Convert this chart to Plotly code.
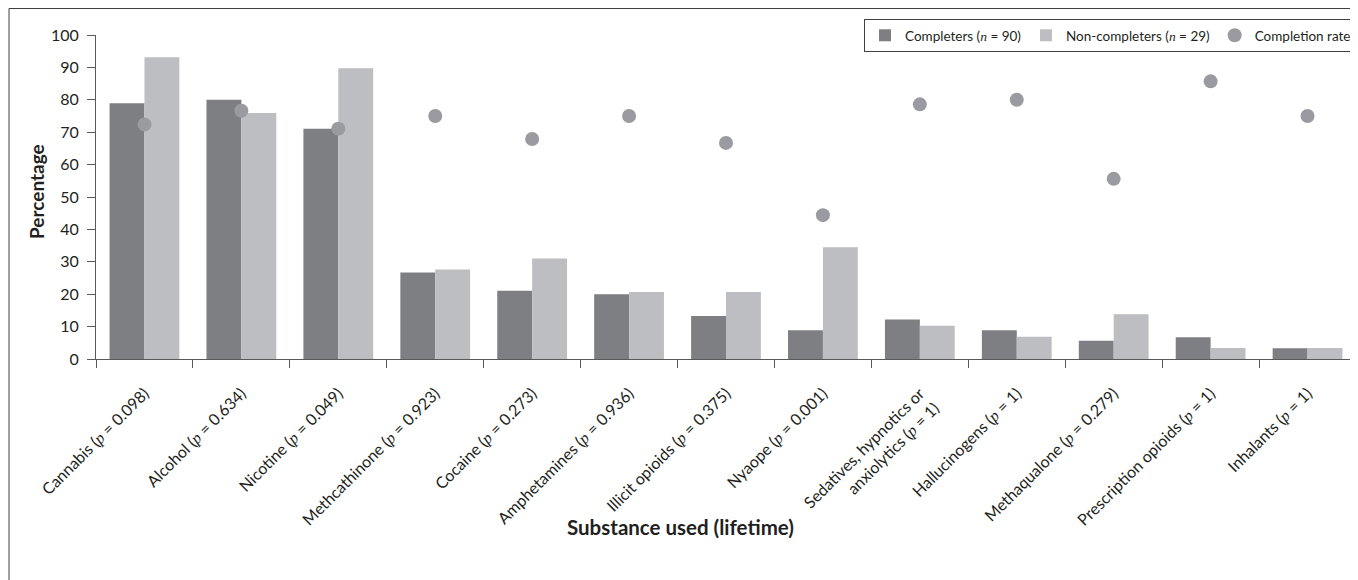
import plotly.graph_objects as go

P = "<span style='font-family:Liberation Serif'><i>p</i></span>"
N = "<span style='font-family:Liberation Serif'><i>n</i></span>"

categories = [
    f"Cannabis ({P} = 0.098)",
    f"Alcohol ({P} = 0.634)",
    f"Nicotine ({P} = 0.049)",
    f"Methcathinone ({P} = 0.923)",
    f"Cocaine ({P} = 0.273)",
    f"Amphetamines ({P} = 0.936)",
    f"Illicit opioids ({P} = 0.375)",
    f"Nyaope ({P} = 0.001)",
    f"Sedatives, hypnotics or<br>anxiolytics ({P} = 1)",
    f"Hallucinogens ({P} = 1)",
    f"Methaqualone ({P} = 0.279)",
    f"Prescription opioids ({P} = 1)",
    f"Inhalants ({P} = 1)",
]
completers = [78.9, 80.0, 71.1, 26.7, 21.1, 20.0, 13.3, 8.9, 12.2, 8.9, 5.6, 6.7, 3.3]
non_completers = [93.1, 75.9, 89.7, 27.6, 31.0, 20.7, 20.7, 34.5, 10.3, 6.9, 13.8, 3.4, 3.4]
completion_rate = [72.4, 76.6, 71.1, 75.0, 67.9, 75.0, 66.7, 44.4, 78.6, 80.0, 55.6, 85.7, 75.0]
y_ticks = [0, 10, 20, 30, 40, 50, 60, 70, 80, 90, 100]

FONT = "Lato, 'Open Sans', sans-serif"
TXT = "#231f20"
AX = "#595959"
W, H = 1350, 572
ML, MR, MT, MB = 88, 2, 27, 221
PW = W - ML - MR
PH = H - MT - MB

def px_x(x):
    return (x - ML) / PW

def px_y(y):
    return (H - MB - y) / PH

fig = go.Figure()
fig.add_trace(go.Bar(
    x=categories, y=completers, name=f"Completers ({N} = 90)",
    marker=dict(color="#7e7f83", line=dict(width=0)),
))
fig.add_trace(go.Bar(
    x=categories, y=non_completers, name=f"Non-completers ({N} = 29)",
    marker=dict(color="#bdbec2", line=dict(width=0)),
))
fig.add_trace(go.Scatter(
    x=categories, y=completion_rate, mode="markers", name="Completion rate",
    marker=dict(color="#9a9ba0", size=14, line=dict(width=0)),
))

fig.update_layout(
    width=W, height=H,
    margin=dict(l=ML, r=MR, t=MT, b=MB, autoexpand=False),
    paper_bgcolor="white", plot_bgcolor="white",
    font=dict(family=FONT, color=TXT),
    barmode="group", bargap=0.28, bargroupgap=0,
    showlegend=True,
    legend=dict(
        orientation="h", x=px_x(856), y=px_y(11), xanchor="left", yanchor="top",
        bordercolor="#404040", borderwidth=1, bgcolor="white",
        font=dict(size=13.5, family=FONT, color=TXT),
        itemwidth=30, traceorder="normal",
    ),
    xaxis=dict(
        range=[-0.5, 12.5], tickangle=-45, tickson="boundaries",
        ticks="outside", ticklen=8, tickcolor=AX,
        showline=True, linecolor=AX, linewidth=1,
        tickfont=dict(size=16, family=FONT, color=TXT),
        ticklabelstandoff=18,
        automargin=False,
    ),
    yaxis=dict(
        range=[0, 100], tickvals=y_ticks, ticks="outside", ticklen=8, tickcolor=AX,
        showline=True, linecolor=AX, linewidth=1, showgrid=False, zeroline=False,
        tickfont=dict(size=16, family=FONT, color=TXT),
        ticklabelstandoff=5,
        automargin=False,
    ),
    annotations=[
        dict(text="<b>Percentage</b>", textangle=-90, xref="paper", yref="paper",
             x=px_x(28), y=px_y(184), xanchor="center", yanchor="middle",
             showarrow=False, font=dict(size=19, family=FONT, color=TXT)),
        dict(text="<b>Substance used (lifetime)</b>", xref="paper", yref="paper",
             x=px_x(672), y=px_y(519), xanchor="center", yanchor="middle",
             showarrow=False, font=dict(size=20.5, family=FONT, color=TXT)),
    ],
    shapes=[dict(
        type="rect", xref="paper", yref="paper",
        x0=px_x(1), x1=px_x(1370), y0=px_y(0.5), y1=px_y(600),
        line=dict(color="#404040", width=1), fillcolor="rgba(0,0,0,0)", layer="below",
    )],
)

fig.write_html("out.html")
